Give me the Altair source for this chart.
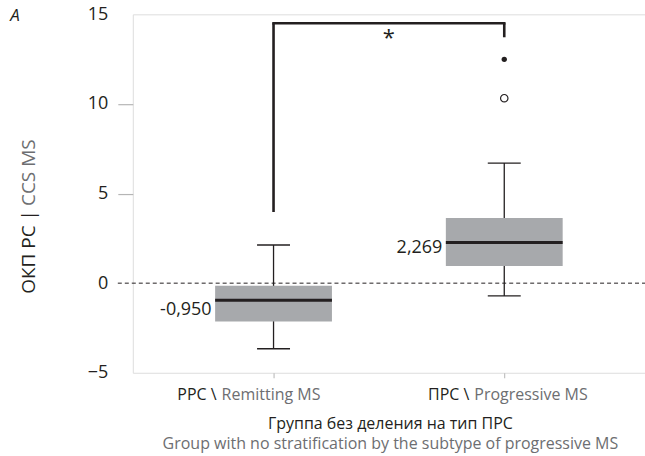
import altair as alt
import pandas as pd

# Groups and box-plot statistics
groups = ["РРС \\ Remitting MS", "ПРС \\ Progressive MS"]
group_ru = ["РРС \\", "ПРС \\"]
group_en = ["Remitting MS", "Progressive MS"]
whisker_lo = [-3.66, -0.71]
q1 = [-2.14, 0.96]
median = [-0.950, 2.269]
q3 = [-0.15, 3.63]
whisker_hi = [2.13, 6.70]

# Outliers of the progressive group
outlier_group = ["ПРС \\ Progressive MS"]
outlier_value = [10.32]
extreme_group = ["ПРС \\ Progressive MS"]
extreme_value = [12.49]

# Significance bracket
bracket_y = 14.5
bracket_left_bottom = 3.97
bracket_right_bottom = 13.72
bracket_label = "*"

W, H = 513, 359
FONT = "Open Sans"
BLACK = "#231f20"
GREY_TEXT = "#6d6e71"
BOX_FILL = "#a7a9ac"
FRAME = "#b5b5b5"

stats = pd.DataFrame({
    "group": groups, "ru": group_ru, "en": group_en,
    "lo": whisker_lo, "q1": q1, "med": median, "q3": q3, "hi": whisker_hi,
})
stats["med_label"] = [f"{v:.3f}".replace(".", ",") for v in median]
outliers = pd.DataFrame({"group": outlier_group, "value": outlier_value})
extremes = pd.DataFrame({"group": extreme_group, "value": extreme_value})

PAD = 0.61
xscale = alt.Scale(type="point", domain=groups, padding=PAD)
yscale = alt.Scale(domain=[-5, 15], nice=False, zero=False)

x_enc = alt.X("group:N", scale=xscale, sort=groups,
              axis=alt.Axis(title=None, labels=False, domain=False,
                            tickColor=FRAME, tickSize=5, tickWidth=1))
y_axis = alt.Axis(
    title=None, values=[-5, 0, 5, 10, 15], domain=False, grid=False,
    tickSize=15, tickColor=FRAME, tickWidth=1.2,
    tickOpacity={"condition": {"test": "datum.value == 5 || datum.value == 10", "value": 1}, "value": 0},
    labelFont=FONT, labelFontSize=18, labelColor=BLACK, labelPadding=10,
)

base = alt.Chart(stats)

whisker = base.mark_rule(color=BLACK, strokeWidth=1.3).encode(
    x=x_enc, y=alt.Y("lo:Q", scale=yscale, axis=y_axis), y2="hi:Q")
caps_lo = base.mark_tick(color=BLACK, size=33, thickness=1.3, opacity=1).encode(x="group:N", y="lo:Q")
caps_hi = base.mark_tick(color=BLACK, size=33, thickness=1.3, opacity=1).encode(x="group:N", y="hi:Q")
box = base.mark_bar(color=BOX_FILL, size=117, opacity=1).encode(x="group:N", y="q1:Q", y2="q3:Q")
med = base.mark_tick(color=BLACK, size=117, thickness=3, opacity=1).encode(x="group:N", y="med:Q")

# Median values printed left of each box
med_texts = []
for i, g in enumerate(groups):
    med_texts.append(
        alt.Chart(stats[stats["group"] == g]).mark_text(
            align="right", baseline="middle", dx=-62, dy=[10, 6][i],
            font=FONT, fontSize=18, color=BLACK).encode(
            x="group:N", y="med:Q", text="med_label:N"))

zero_line = alt.Chart(pd.DataFrame({"v": [0]})).mark_rule(
    color=BLACK, strokeDash=[4, 3], strokeWidth=1).encode(
    y="v:Q", x=alt.value(-15), x2=alt.value(W))

open_pt = alt.Chart(outliers).mark_point(shape="circle", filled=False, color=BLACK, opacity=1,
                                         size=55, strokeWidth=1.2).encode(x="group:N", y="value:Q")
dot_pt = alt.Chart(extremes).mark_circle(color=BLACK, size=28, opacity=1).encode(
    x="group:N", y="value:Q")

# Bracket between the two groups
br = pd.DataFrame({
    "x": [groups[0], groups[1]],
    "top": [bracket_y, bracket_y],
    "bottom": [bracket_left_bottom, bracket_right_bottom],
})
bracket_legs = alt.Chart(br).mark_rule(color=BLACK, strokeWidth=2.6).encode(
    x="x:N", y="bottom:Q", y2="top:Q")
bracket_top = alt.Chart(pd.DataFrame({"a": [groups[0]], "b": [groups[1]], "y": [bracket_y]})).mark_rule(
    color=BLACK, strokeWidth=2.6, strokeCap="square").encode(x="a:N", x2="b:N", y="y:Q")
step = W / (1 + 2 * PAD)
star = alt.Chart(pd.DataFrame({"a": [groups[0]], "y": [bracket_y], "t": [bracket_label]})).mark_text(
    font=FONT, fontSize=22, color=BLACK, dx=step / 2, dy=22, baseline="alphabetic").encode(
    x="a:N", y="y:Q", text="t:N")

# Two-tone category labels under the axis
parts = []
for i, g in enumerate(groups):
    split = [-57, -35][i]
    one = stats[stats["group"] == g]
    parts.append(alt.Chart(one).mark_text(align="right", baseline="middle", font=FONT, fontSize=16,
                                          color=BLACK, dx=split).encode(
        x="group:N", y=alt.value(H + 22), text="ru:N"))
    parts.append(alt.Chart(one).mark_text(align="left", baseline="middle", font=FONT, fontSize=16,
                                          color=GREY_TEXT, dx=split + 5).encode(
        x="group:N", y=alt.value(H + 22), text="en:N"))

title_ru = alt.Chart(pd.DataFrame({"t": ["Группа без деления на тип ПРС"]})).mark_text(
    font=FONT, fontSize=16, color=BLACK, baseline="middle").encode(
    x=alt.value(258), y=alt.value(H + 51), text="t:N")
title_en = alt.Chart(pd.DataFrame({"t": ["Group with no stratification by the subtype of progressive MS"]})).mark_text(
    font=FONT, fontSize=16, color=GREY_TEXT, baseline="middle").encode(
    x=alt.value(258), y=alt.value(H + 71), text="t:N")

ytitle_ru = alt.Chart(pd.DataFrame({"t": ["ОКП РС |"]})).mark_text(
    font=FONT, fontSize=19, color=BLACK, angle=270, align="right", baseline="middle").encode(
    x=alt.value(-104), y=alt.value(196), text="t:N")
ytitle_en = alt.Chart(pd.DataFrame({"t": ["CCS MS"]})).mark_text(
    font=FONT, fontSize=19, color=GREY_TEXT, angle=270, align="left", baseline="middle").encode(
    x=alt.value(-104), y=alt.value(192), text="t:N")

panel = alt.Chart(pd.DataFrame({"t": ["A"]})).mark_text(
    font=FONT, fontSize=17, fontStyle="italic", color=BLACK, baseline="middle").encode(
    x=alt.value(-118), y=alt.value(2), text="t:N")

chart = alt.layer(
    zero_line, whisker, caps_lo, caps_hi, box, med, *med_texts, open_pt, dot_pt,
    bracket_legs, bracket_top, star, title_ru, title_en, ytitle_ru, ytitle_en, panel, *parts,
).properties(
    width=W, height=H,
    autosize=alt.AutoSizeParams(type="none"),
    padding={"left": 133, "top": 14, "right": 0, "bottom": 83},
).configure_view(stroke=FRAME, strokeWidth=1.5).configure(background="white")

chart.save("out.html", embed_options={"renderer": "svg", "actions": False})
